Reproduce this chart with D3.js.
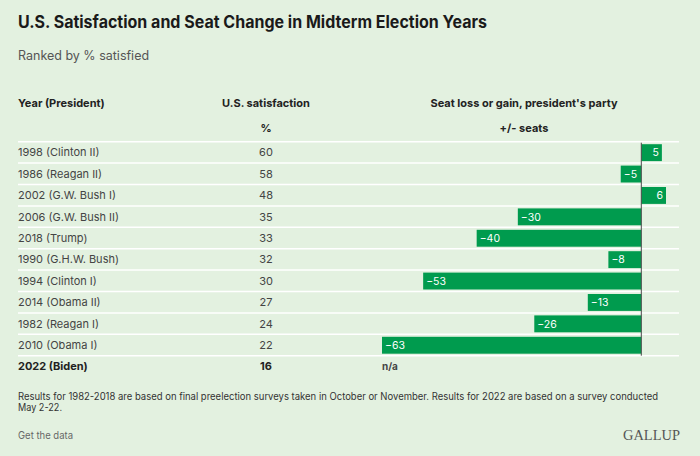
<!DOCTYPE html>
<html>
<head>
<meta charset="utf-8">
<script src="https://cdn.jsdelivr.net/npm/d3@7"></script>
<style>
  html, body { margin: 0; padding: 0; background: #e3f1e0; }
  svg { display: block; font-family: Inter, "Noto Sans", sans-serif; }
</style>
</head>
<body>
<svg id="chart" width="700" height="456"></svg>
<script>
// rows, ranked by % satisfied
const labels = ["1998 (Clinton II)", "1986 (Reagan II)", "2002 (G.W. Bush I)", "2006 (G.W. Bush II)",
  "2018 (Trump)", "1990 (G.H.W. Bush)", "1994 (Clinton I)", "2014 (Obama II)", "1982 (Reagan I)",
  "2010 (Obama I)", "2022 (Biden)"];
const satisfaction = [60, 58, 48, 35, 33, 32, 30, 27, 24, 22, 16];
const seats = [5, -5, 6, -30, -40, -8, -53, -13, -26, -63, null];

const green = "#009b4e";
const svg = d3.select("#chart");

svg.append("text").attr("x", 18).attr("y", 28)
  .attr("font-size", 17).attr("font-weight", 700).attr("fill", "#1a1a1a")
  .attr("textLength", 469).attr("lengthAdjust", "spacingAndGlyphs")
  .text("U.S. Satisfaction and Seat Change in Midterm Election Years");

svg.append("text").attr("x", 18).attr("y", 60)
  .attr("font-size", 12.5).attr("fill", "#555")
  .text("Ranked by % satisfied");

// column headers
const head = svg.append("g").attr("font-size", 11).attr("font-weight", 700).attr("fill", "#222");
head.append("text").attr("x", 18).attr("y", 107).text("Year (President)");
head.append("text").attr("x", 266).attr("y", 107).attr("text-anchor", "middle").text("U.S. satisfaction");
head.append("text").attr("x", 266).attr("y", 132).attr("text-anchor", "middle").text("%");
head.append("text").attr("x", 524).attr("y", 107).attr("text-anchor", "middle").text("Seat loss or gain, president's party");
head.append("text").attr("x", 524).attr("y", 132).attr("text-anchor", "middle").text("+/- seats");

const y = d3.scaleBand().domain(labels).range([141.7, 141.7 + 21.4 * labels.length]);
const x = d3.scaleLinear().domain([-63, 6]).range([382, 666]);

const rows = labels.map((d, i) => ({ label: d, sat: satisfaction[i], seat: seats[i], last: i === labels.length - 1 }));

// row separators
svg.append("g").selectAll("line").data(rows).join("line")
  .attr("x1", 18).attr("x2", 679)
  .attr("y1", d => y(d.label)).attr("y2", d => y(d.label))
  .attr("stroke", "#fff").attr("stroke-width", 1.5);

// bars
const withSeats = rows.filter(d => d.seat !== null);
svg.append("g").selectAll("rect").data(withSeats).join("rect")
  .attr("x", d => x(Math.min(0, d.seat)))
  .attr("width", d => Math.abs(x(d.seat) - x(0)))
  .attr("y", d => y(d.label) + 2.5)
  .attr("height", y.bandwidth() - 4.5)
  .attr("fill", green);

svg.append("line")
  .attr("x1", x(0)).attr("x2", x(0))
  .attr("y1", y(labels[0]) + 1).attr("y2", y(labels[labels.length - 1]))
  .attr("stroke", "#4a4a4a").attr("stroke-width", 1);

svg.append("g").selectAll("text").data(withSeats).join("text")
  .attr("x", d => d.seat < 0 ? x(d.seat) + 3 : x(d.seat) - 3)
  .attr("text-anchor", d => d.seat < 0 ? "start" : "end")
  .attr("y", d => y(d.label) + y.bandwidth() / 2 + 4)
  .attr("font-size", 10.5).attr("fill", "#fff")
  .text(d => d.seat < 0 ? "\u2212" + Math.abs(d.seat) : d.seat);

// text columns
const cells = svg.append("g").selectAll("g").data(rows).join("g")
  .attr("transform", d => `translate(0,${y(d.label) + y.bandwidth() / 2 + 4})`)
  .attr("font-size", 11)
  .attr("font-weight", d => d.last ? 700 : 400)
  .attr("fill", d => d.last ? "#222" : "#444");
cells.append("text").attr("x", 18).text(d => d.label);
cells.append("text").attr("x", 266).attr("text-anchor", "middle").text(d => d.sat);
cells.filter(d => d.seat === null).append("text")
  .attr("x", 382).attr("font-size", 10).attr("fill", "#444").text("n/a");

// footer
const note = svg.append("g").attr("font-size", 10).attr("fill", "#333");
note.append("text").attr("x", 18).attr("y", 400)
  .attr("textLength", 640).attr("lengthAdjust", "spacingAndGlyphs")
  .text("Results for 1982-2018 are based on final preelection surveys taken in October or November. Results for 2022 are based on a survey conducted");
note.append("text").attr("x", 18).attr("y", 411)
  .attr("textLength", 44).attr("lengthAdjust", "spacingAndGlyphs")
  .text("May 2-22.");

svg.append("text").attr("x", 18).attr("y", 439)
  .attr("font-size", 10.5).attr("fill", "#666")
  .attr("textLength", 55).attr("lengthAdjust", "spacingAndGlyphs")
  .text("Get the data");

svg.append("text").attr("x", 680).attr("y", 440).attr("text-anchor", "end")
  .attr("font-family", "'Liberation Serif', serif").attr("font-size", 14.5).attr("fill", "#555")
  .attr("textLength", 57).attr("lengthAdjust", "spacingAndGlyphs")
  .text("GALLUP");
</script>
</body>
</html>
